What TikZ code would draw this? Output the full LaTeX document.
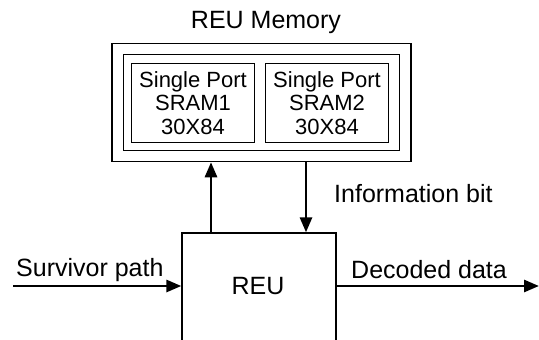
\documentclass[tikz,border=0pt]{standalone}
\usepackage{fontspec}
\setmainfont{Liberation Sans}
\usetikzlibrary{arrows.meta}
\usetikzlibrary{positioning}

\tikzset{
  membox/.style={draw, line width=1.5pt, minimum width=299pt, minimum height=118pt, inner sep=0pt},
  innerbox/.style={draw, line width=1.5pt, minimum width=276pt, minimum height=96pt, inner sep=0pt},
  srambox/.style={draw, line width=1.3pt, minimum width=123pt, minimum height=79pt, inner sep=0pt,
    align=center, font=\fontsize{22}{23.5}\selectfont},
  reubox/.style={draw, line width=1.3pt, minimum width=154pt, minimum height=140pt, inner sep=0pt},
  lbl/.style={font=\fontsize{25}{27}\selectfont, inner sep=0pt},
  sig/.style={line width=2.8pt, -{Triangle[length=15pt,width=12pt]}},
}

\begin{document}
\begin{tikzpicture}[x=1pt, y=-1pt]
 \useasboundingbox (0,0) rectangle (539,340);
 \clip (0,0) rectangle (539,340);

 % memory block
 \node[lbl] (title) at (266,22) {REU Memory};
 \node[membox] (mem) at (261.5,102.5) {};
 \node[innerbox] (memin) at (261.5,102.5) {};
 \node[srambox] (sram1) at (193,103) {Single Port\\SRAM1\\30X84};
 \node[srambox] (sram2) at (327,103) {Single Port\\SRAM2\\30X84};

 % REU block
 \node[reubox] (reu) at (259,303) {};
 \node[lbl] (reulbl) at (258,286) {REU};

 \coordinate (upx) at (211,0);
 \coordinate (dnx) at (306,0);
 \coordinate (in) at (13,286);
 \coordinate (out) at (539,286);

 % lines
 \draw[sig] (reu.north -| upx) -- (mem.south -| upx);
 \draw[sig] (mem.south -| dnx) -- (reu.north -| dnx);
 \draw[sig] (in) -- (in -| reu.west);
 \draw[sig] (out -| reu.east) -- (out);

 \node[lbl, anchor=west] (info) at (334,194) {Information bit};
 \node[lbl, anchor=west] (surv) at (16,270) {Survivor path};
 \node[lbl, anchor=west] (dec) at (351,270) {Decoded data};

\end{tikzpicture}
\end{document}
